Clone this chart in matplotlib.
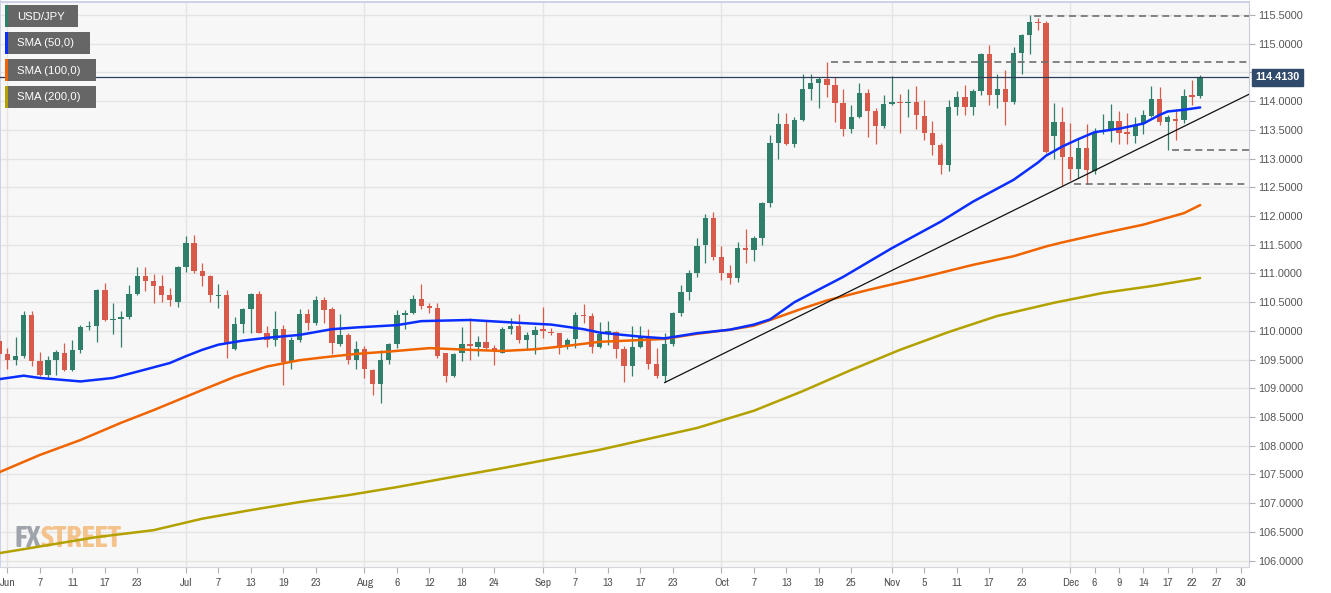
import numpy as np
import pandas as pd
import matplotlib
matplotlib.use("Agg")
import matplotlib.pyplot as plt
from matplotlib.patches import Rectangle
import matplotlib.transforms as mtransforms
from matplotlib.ticker import FixedLocator, FuncFormatter
from matplotlib import font_manager as fm

plt.rcParams['font.family'] = ['Liberation Sans', 'DejaVu Sans']

# ---------------- data ----------------
candle_start = '2021-05-31'
candle_end = '2021-12-23'
axis_end = '2021-12-31'

opens = [109.83, 109.60, 109.49, 109.56, 110.28, 109.48, 109.24, 109.50, 109.61, 109.32,
         109.66, 110.06, 110.08, 110.71, 110.19, 110.21, 110.24, 110.64, 110.95, 110.87,
         110.78, 110.63, 110.51, 111.11, 111.53, 111.05, 110.96, 110.60, 110.62, 109.68,
         110.12, 110.38, 110.64, 109.97, 109.85, 110.04, 109.45, 109.85, 110.29, 110.14,
         110.53, 110.38, 109.78, 109.92, 109.49, 109.69, 109.32, 109.07, 109.49, 109.78,
         110.27, 110.32, 110.56, 110.42, 110.40, 109.61, 109.22, 109.62, 109.78, 109.72,
         109.80, 109.70, 109.62, 110.04, 110.09, 109.84, 109.93, 110.01, 109.98, 109.96,
         109.72, 109.86, 110.27, 110.26, 109.72, 109.94, 109.98, 109.69, 109.38, 109.72,
         109.88, 109.43, 109.22, 109.77, 110.31, 110.68, 111.00, 111.49, 111.96, 111.29,
         111.01, 110.92, 111.45, 111.40, 111.62, 112.22, 113.28, 113.60, 113.25, 113.67,
         114.21, 114.32, 114.38, 114.28, 113.97, 113.52, 113.72, 114.15, 113.82, 113.57,
         113.95, 113.99, 113.96, 113.99, 113.75, 113.44, 113.23, 112.88, 113.89, 114.07,
         113.89, 114.17, 114.82, 114.11, 114.22, 113.99, 114.84, 115.15, 115.38, 115.36,
         113.39, 113.64, 113.02, 112.81, 113.18, 112.78, 113.47, 113.50, 113.66, 113.45,
         113.40, 113.60, 113.74, 114.04, 113.64, 113.68, 113.67, 114.09, 114.09]
highs = [109.93, 109.70, 109.89, 110.34, 110.34, 109.63, 109.57, 109.66, 109.79, 109.85,
         110.11, 110.18, 110.73, 110.83, 110.48, 110.35, 110.80, 111.11, 111.11, 110.99,
         110.97, 110.75, 111.13, 111.65, 111.67, 111.19, 110.98, 110.82, 110.72, 110.25,
         110.40, 110.66, 110.70, 110.08, 110.35, 110.11, 109.90, 110.38, 110.38, 110.60,
         110.59, 110.42, 110.30, 109.96, 109.82, 109.74, 109.33, 109.67, 109.79, 110.36,
         110.37, 110.62, 110.81, 110.49, 110.48, 109.62, 109.62, 110.07, 110.23, 109.91,
         110.17, 109.75, 110.07, 110.23, 110.30, 109.98, 110.08, 110.42, 110.05, 109.97,
         109.88, 110.33, 110.46, 110.32, 110.15, 110.17, 110.00, 109.74, 110.08, 110.08,
         110.04, 109.71, 109.97, 110.33, 110.80, 111.06, 111.62, 112.04, 112.07, 111.47,
         111.14, 111.55, 111.78, 111.65, 112.25, 113.41, 113.79, 113.80, 113.72, 114.47,
         114.47, 114.42, 114.69, 114.42, 114.21, 113.93, 114.31, 114.22, 113.88, 114.11,
         114.44, 114.12, 114.22, 114.26, 114.02, 113.66, 113.28, 114.02, 114.17, 114.28,
         114.22, 114.84, 114.98, 114.48, 114.54, 114.95, 115.17, 115.50, 115.44, 115.40,
         113.96, 113.89, 113.62, 113.34, 113.60, 113.54, 113.77, 113.95, 113.82, 113.79,
         113.72, 113.84, 114.26, 114.25, 113.76, 113.86, 114.22, 114.37, 114.45]
lows = [109.35, 109.34, 109.41, 109.53, 109.38, 109.21, 109.20, 109.24, 109.30, 109.31,
        109.61, 110.02, 109.80, 110.17, 109.95, 109.72, 110.21, 110.63, 110.69, 110.48,
        110.51, 110.43, 110.42, 111.02, 111.01, 110.79, 110.51, 110.40, 109.53, 109.67,
        109.97, 109.96, 109.96, 109.72, 109.73, 109.06, 109.34, 109.80, 110.02, 110.11,
        110.14, 109.59, 109.73, 109.42, 109.34, 109.18, 108.89, 108.74, 109.42, 109.71,
        110.04, 110.29, 110.38, 110.32, 109.53, 109.11, 109.20, 109.47, 109.50, 109.56,
        109.68, 109.40, 109.61, 109.94, 109.79, 109.67, 109.59, 109.88, 109.93, 109.60,
        109.69, 109.71, 110.14, 109.62, 109.71, 109.75, 109.53, 109.11, 109.21, 109.71,
        109.33, 109.18, 109.11, 109.73, 110.26, 110.53, 110.94, 111.18, 111.23, 110.89,
        110.81, 110.85, 111.18, 111.22, 111.50, 112.15, 113.00, 113.23, 113.21, 113.66,
        114.02, 113.88, 114.08, 113.64, 113.40, 113.45, 113.70, 113.38, 113.25, 113.53,
        113.93, 113.45, 113.72, 113.51, 113.32, 113.07, 112.73, 112.78, 113.76, 113.76,
        113.76, 114.11, 113.93, 113.88, 113.59, 113.95, 114.48, 114.82, 115.24, 113.09,
        112.99, 112.54, 112.62, 112.66, 112.55, 112.74, 113.42, 113.29, 113.26, 113.26,
        113.28, 113.43, 113.72, 113.58, 113.15, 113.32, 113.62, 113.93, 114.06]
closes = [109.60, 109.49, 109.56, 110.28, 109.48, 109.24, 109.50, 109.63, 109.32, 109.66,
          110.06, 110.08, 110.72, 110.19, 110.21, 110.24, 110.64, 110.95, 110.87, 110.78,
          110.63, 110.53, 111.11, 111.53, 111.05, 110.96, 110.62, 110.62, 109.77, 110.12,
          110.38, 110.64, 109.97, 109.85, 110.04, 109.45, 109.85, 110.29, 110.14, 110.53,
          110.37, 109.79, 109.92, 109.49, 109.69, 109.33, 109.07, 109.49, 109.78, 110.27,
          110.32, 110.56, 110.43, 110.40, 109.57, 109.22, 109.59, 109.78, 109.74, 109.80,
          109.70, 109.66, 110.03, 110.08, 109.84, 109.93, 110.01, 110.00, 109.96, 109.71,
          109.85, 110.27, 110.26, 109.72, 109.94, 109.99, 109.69, 109.38, 109.72, 109.90,
          109.42, 109.22, 109.78, 110.31, 110.68, 111.00, 111.48, 111.96, 111.28, 111.01,
          110.92, 111.45, 111.40, 111.62, 112.22, 113.28, 113.60, 113.25, 113.67, 114.21,
          114.31, 114.38, 114.28, 113.97, 113.52, 113.72, 114.15, 113.83, 113.57, 113.95,
          113.99, 113.96, 113.99, 113.76, 113.45, 113.23, 112.88, 113.89, 114.07, 113.89,
          114.17, 114.82, 114.11, 114.22, 113.99, 114.84, 115.15, 115.37, 115.36, 113.12,
          113.64, 113.03, 112.81, 113.18, 112.80, 113.45, 113.50, 113.66, 113.45, 113.43,
          113.58, 113.76, 114.04, 113.64, 113.73, 113.66, 114.09, 114.08, 114.41]

# moving averages (session number: 0 = 31 May)
sma50_session = [0, 3, 5, 10, 14, 17, 21, 23, 25, 27, 30, 33, 37, 41, 44, 49, 52, 58, 64, 68,
                 72, 74, 79, 82, 86, 90, 93, 95, 96, 98, 101, 104, 110, 116, 120, 125, 128,
                 129, 131, 133, 135, 138, 141, 143, 144, 146, 148]
sma50_value = [109.16, 109.22, 109.18, 109.12, 109.18, 109.29, 109.44, 109.56, 109.67, 109.76,
               109.83, 109.88, 109.93, 110.03, 110.06, 110.10, 110.17, 110.19, 110.14, 110.11,
               110.03, 109.97, 109.90, 109.87, 109.96, 110.02, 110.11, 110.20, 110.30, 110.50,
               110.72, 110.94, 111.44, 111.90, 112.25, 112.63, 112.93, 113.05, 113.21, 113.34,
               113.46, 113.52, 113.61, 113.76, 113.82, 113.85, 113.89]
sma100_session = [0, 5, 10, 15, 19, 25, 29, 33, 37, 40, 44, 48, 53, 58, 62, 66, 70, 74, 79, 82,
                  86, 90, 93, 96, 99, 102, 107, 114, 120, 125, 129, 131, 136, 141, 146, 148]
sma100_value = [107.54, 107.84, 108.10, 108.40, 108.62, 108.97, 109.20, 109.38, 109.49, 109.54,
                109.60, 109.64, 109.70, 109.67, 109.65, 109.68, 109.74, 109.81, 109.84, 109.86,
                109.95, 110.02, 110.09, 110.24, 110.39, 110.53, 110.71, 110.94, 111.15, 111.30,
                111.47, 111.54, 111.70, 111.85, 112.05, 112.19]
sma200_session = [0, 12, 19, 25, 31, 37, 43, 49, 56, 62, 68, 74, 80, 86, 93, 99, 105, 111, 117,
                  123, 130, 136, 142, 148]
sma200_value = [106.13, 106.41, 106.53, 106.73, 106.88, 107.02, 107.14, 107.28, 107.46, 107.61,
                107.77, 107.93, 108.12, 108.31, 108.61, 108.95, 109.32, 109.67, 109.98, 110.26,
                110.49, 110.66, 110.78, 110.92]

# drawn levels (start date, price) and trend line anchors
level_dates = ['2021-11-24', '2021-10-20', '2021-12-17', '2021-12-01']
level_prices = [115.48, 114.69, 113.15, 112.55]
trend_dates = ['2021-09-22', '2021-12-23']
trend_prices = [109.10, 113.70]
last_price = 114.413

tick_dates = ['2021-06-01', '2021-06-07', '2021-06-11', '2021-06-17', '2021-06-23',
              '2021-07-01', '2021-07-07', '2021-07-13', '2021-07-19', '2021-07-23',
              '2021-08-02', '2021-08-06', '2021-08-12', '2021-08-18', '2021-08-24',
              '2021-09-01', '2021-09-07', '2021-09-13', '2021-09-17', '2021-09-23',
              '2021-10-01', '2021-10-07', '2021-10-13', '2021-10-19', '2021-10-25',
              '2021-11-01', '2021-11-05', '2021-11-11', '2021-11-17', '2021-11-23',
              '2021-12-01', '2021-12-06', '2021-12-09', '2021-12-14', '2021-12-17',
              '2021-12-22', '2021-12-27', '2021-12-30']
tick_labels = ['Jun', '7', '11', '17', '23', 'Jul', '7', '13', '19', '23',
               'Aug', '6', '12', '18', '24', 'Sep', '7', '13', '17', '23',
               'Oct', '7', '13', '19', '25', 'Nov', '5', '11', '17', '23',
               'Dec', '6', '9', '14', '17', '22', '27', '30']
legend_labels = ['USD/JPY', 'SMA (50,0)', 'SMA (100,0)', 'SMA (200,0)']

# ---------------- styling ----------------
GREEN = '#2f7f6b'
RED = '#d85a4a'
BLUE = '#0a2eff'
ORANGE = '#f06400'
OLIVE = '#b3a100'
W, H = 1331, 593


def pick_condensed(bold):
    best = None
    for f in fm.fontManager.ttflist:
        nm = f.name.lower()
        st = f.stretch
        cond = ('narrow' in nm) or ('condensed' in nm) or \
               (isinstance(st, str) and 'condensed' in st) or \
               (isinstance(st, (int, float)) and st < 500)
        if not cond or f.style != 'normal':
            continue
        wt = f.weight if isinstance(f.weight, (int, float)) else fm.weight_dict.get(f.weight, 400)
        score = abs(wt - (700 if bold else 400))
        if 'dejavu' in nm or 'dejavu' in f.fname.lower():
            score += 150
        if best is None or score < best[0]:
            best = (score, f.fname)
    return best[1] if best else None


cond_bold = pick_condensed(True)
cond_reg = pick_condensed(False)

sessions = pd.bdate_range(candle_start, axis_end)
pos_of = {d.strftime('%Y-%m-%d'): i for i, d in enumerate(sessions)}
n_c = len(pd.bdate_range(candle_start, candle_end))

fig = plt.figure(figsize=(W / 100, H / 100), dpi=100)
fig.patch.set_facecolor('white')
ax = fig.add_axes([0, 26 / H, 1249 / W, 565.5 / H])
ax.set_facecolor('#f7f7f7')
XL = (0.08, 154.02)
ax.set_xlim(*XL)
ax.set_ylim(105.889, 115.735)

# grid
for v in np.arange(106.0, 115.51, 0.5):
    ax.axhline(v, color='#e4e4e4', lw=1.0, zorder=0)
month_ticks = [pos_of[d] for d, lab in zip(tick_dates, tick_labels) if not lab.isdigit()]
for xm in month_ticks:
    ax.axvline(xm, color='#e4e4e4', lw=1.0, zorder=0)

# candles
o = np.array(opens); h = np.array(highs); l = np.array(lows); c = np.array(closes)
xs = np.arange(n_c)
cols = np.where(c >= o, GREEN, RED)
ax.vlines(xs, l, h, colors=cols, linewidth=0.9, zorder=3)
ax.bar(xs, np.maximum(np.abs(c - o), 0.025), bottom=np.minimum(o, c), width=0.66,
       color=cols, linewidth=0, zorder=4)

# moving averages
for sx, sv, colr in [(sma200_session, sma200_value, OLIVE),
                     (sma100_session, sma100_value, ORANGE),
                     (sma50_session, sma50_value, BLUE)]:
    ax.plot(sx, sv, color=colr, lw=1.8, zorder=5, solid_capstyle='round',
            solid_joinstyle='round')

# trend line extended to the right edge
tx = [pos_of[d] for d in trend_dates]
slope = (trend_prices[1] - trend_prices[0]) / (tx[1] - tx[0])
ax.plot([tx[0], XL[1]], [trend_prices[0], trend_prices[0] + slope * (XL[1] - tx[0])],
        color='#111111', lw=0.9, zorder=6)

# dashed levels
for d, p in zip(level_dates, level_prices):
    ax.plot([pos_of[d] + 0.5, XL[1]], [p, p], color='#6f6f6f', lw=1.2, dashes=(4.2, 2.8),
            zorder=6)

# last price line
ax.axhline(last_price, color='#2b3e5d', lw=0.9, zorder=6)

# axes styling
for side in ['left', 'top']:
    ax.spines[side].set_color('#c5cbe6')
    ax.spines[side].set_linewidth(1.2)
ax.spines['right'].set_color('#c9cdd8')
ax.spines['bottom'].set_color('#d3d6dc')
ax.yaxis.tick_right()
yt = np.arange(106.0, 115.51, 0.5)
ax.yaxis.set_major_locator(FixedLocator(yt))
ax.yaxis.set_major_formatter(FuncFormatter(
    lambda v, _: '' if abs(v - last_price) < 0.2 else f'{v:.4f}'))
ax.tick_params(axis='y', which='major', length=4, width=0.8, color='#b0b0b0',
               labelsize=7.8, labelcolor='#555555', pad=2.5)
ax.set_xticks([pos_of[d] for d in tick_dates])
ax.set_xticklabels(tick_labels)
ax.tick_params(axis='x', which='major', length=4, width=0.8, color='#b0b0b0',
               labelsize=8.2 if cond_reg else 7.6, labelcolor='#555555', pad=4)
if cond_reg:
    for t in ax.get_xticklabels():
        t.set_fontproperties(fm.FontProperties(fname=cond_reg, size=8.4))

# last price label on the axis
trans = mtransforms.blended_transform_factory(ax.transAxes, ax.transData)
ax.text(1.0 + 6 / 1249, last_price, f'{last_price:.4f}', transform=trans, ha='left', va='center',
        color='white', fontsize=7.8, fontweight='bold', zorder=10, clip_on=False,
        bbox=dict(boxstyle='square,pad=0.32', fc='#2f4a6b', ec='#2f4a6b'))

# watermark
if cond_bold:
    wm_fp = fm.FontProperties(fname=cond_bold, size=24)
else:
    wm_fp = fm.FontProperties(family=['Liberation Sans'], weight='bold', size=24)
wm = ax.text(15 / 1249, (567 - 547) / 565.5, 'FX', transform=ax.transAxes, ha='left',
             va='baseline', fontproperties=wm_fp, color='#9fa3aa', zorder=1)
wm2 = ax.annotate('STREET', xy=(1, 0), xycoords=wm, ha='left', va='bottom',
                  fontproperties=wm_fp.copy(), color='#f4c38c', zorder=1)
fig.canvas.draw()
r = fig.canvas.get_renderer()
b1 = wm.get_window_extent(r); b2 = wm2.get_window_extent(r)
width_px = b2.x1 - b1.x0
new_size = min(24 * 107 / width_px, 25)
wm.set_fontsize(new_size); wm2.set_fontsize(new_size)

# legend boxes
leg_colors = [GREEN, BLUE, ORANGE, OLIVE]
leg_widths = [73, 85, 91, 91]
leg_tops = [5, 32, 59, 86]
for lab, colr, wdt, top in zip(legend_labels, leg_colors, leg_widths, leg_tops):
    hgt = 22
    fig.add_artist(Rectangle((5 / W, 1 - (top + hgt) / H), wdt / W, hgt / H,
                             transform=fig.transFigure, facecolor='#666666',
                             edgecolor='none', zorder=20))
    fig.add_artist(Rectangle((5 / W, 1 - (top + hgt) / H), 2.5 / W, hgt / H,
                             transform=fig.transFigure, facecolor=colr,
                             edgecolor='none', zorder=21))
    fig.text(17 / W, 1 - (top + hgt / 2 + 0.5) / H, lab, color='white', fontsize=8.2,
             ha='left', va='center', zorder=22)

fig.savefig('out.png', dpi=100, facecolor='white')
